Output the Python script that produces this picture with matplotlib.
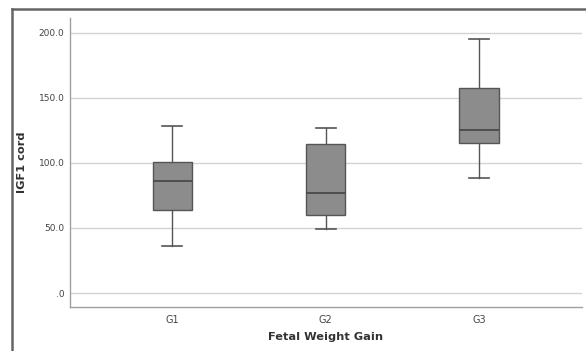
import matplotlib
matplotlib.use("Agg")
import matplotlib.pyplot as plt
from matplotlib.lines import Line2D

# values
groups = ["G1", "G2", "G3"]
whisker_low = [36.2, 49.5, 88.0]
q1 = [63.6, 59.8, 115.4]
median = [85.9, 76.9, 125.2]
q3 = [100.3, 114.4, 157.5]
whisker_high = [128.5, 126.7, 194.9]
yticks = [0, 50, 100, 150, 200]
ytick_labels = [".0", "50.0", "100.0", "150.0", "200.0"]

stats = [
    {"label": g, "whislo": lo, "q1": a, "med": m, "q3": b, "whishi": hi, "fliers": []}
    for g, lo, a, m, b, hi in zip(groups, whisker_low, q1, median, q3, whisker_high)
]

fig = plt.figure(figsize=(5.86, 3.51), dpi=100)
ax = fig.add_axes([0.1195, 0.126, 0.8735, 0.823])

edge = "#555555"
ax.bxp(stats, positions=range(len(groups)), widths=0.255, patch_artist=True,
       showfliers=False,
       boxprops=dict(facecolor="#8c8c8c", edgecolor=edge, linewidth=1.0),
       medianprops=dict(color="#4a4a4a", linewidth=1.3),
       whiskerprops=dict(color=edge, linewidth=1.0),
       capprops=dict(color=edge, linewidth=1.2),
       capwidths=0.13, zorder=3)

ax.set_xlim(-0.665, 2.67)
ax.set_ylim(-10.5, 211.3)
ax.set_yticks(yticks)
ax.set_yticklabels(ytick_labels)
ax.yaxis.grid(True, color="#d4d4d4", linewidth=1.0, zorder=0)
ax.set_axisbelow(True)
ax.tick_params(length=0, labelsize=6.5, colors="#444444", pad=4)
ax.tick_params(axis="x", labelsize=7, pad=6)
for side in ("top", "right"):
    ax.spines[side].set_visible(False)
for side in ("left", "bottom"):
    ax.spines[side].set_color("#a0a0a0")
    ax.spines[side].set_linewidth(1.0)

ax.set_xlabel("Fetal Weight Gain", fontsize=8.2, fontweight="bold",
              color="#333333", labelpad=5)
ax.set_ylabel("IGF1 cord", fontsize=8.2, fontweight="bold", color="#333333")
ax.yaxis.set_label_coords(-0.084, 0.5)

# outer frame seen at top and left of the picture
fig.add_artist(Line2D([12 / 586, 1], [1 - 9 / 351] * 2, color="#666666", lw=1.8))
fig.add_artist(Line2D([12 / 586] * 2, [0, 1 - 9 / 351], color="#666666", lw=1.8))

fig.savefig("out.png", dpi=100)
